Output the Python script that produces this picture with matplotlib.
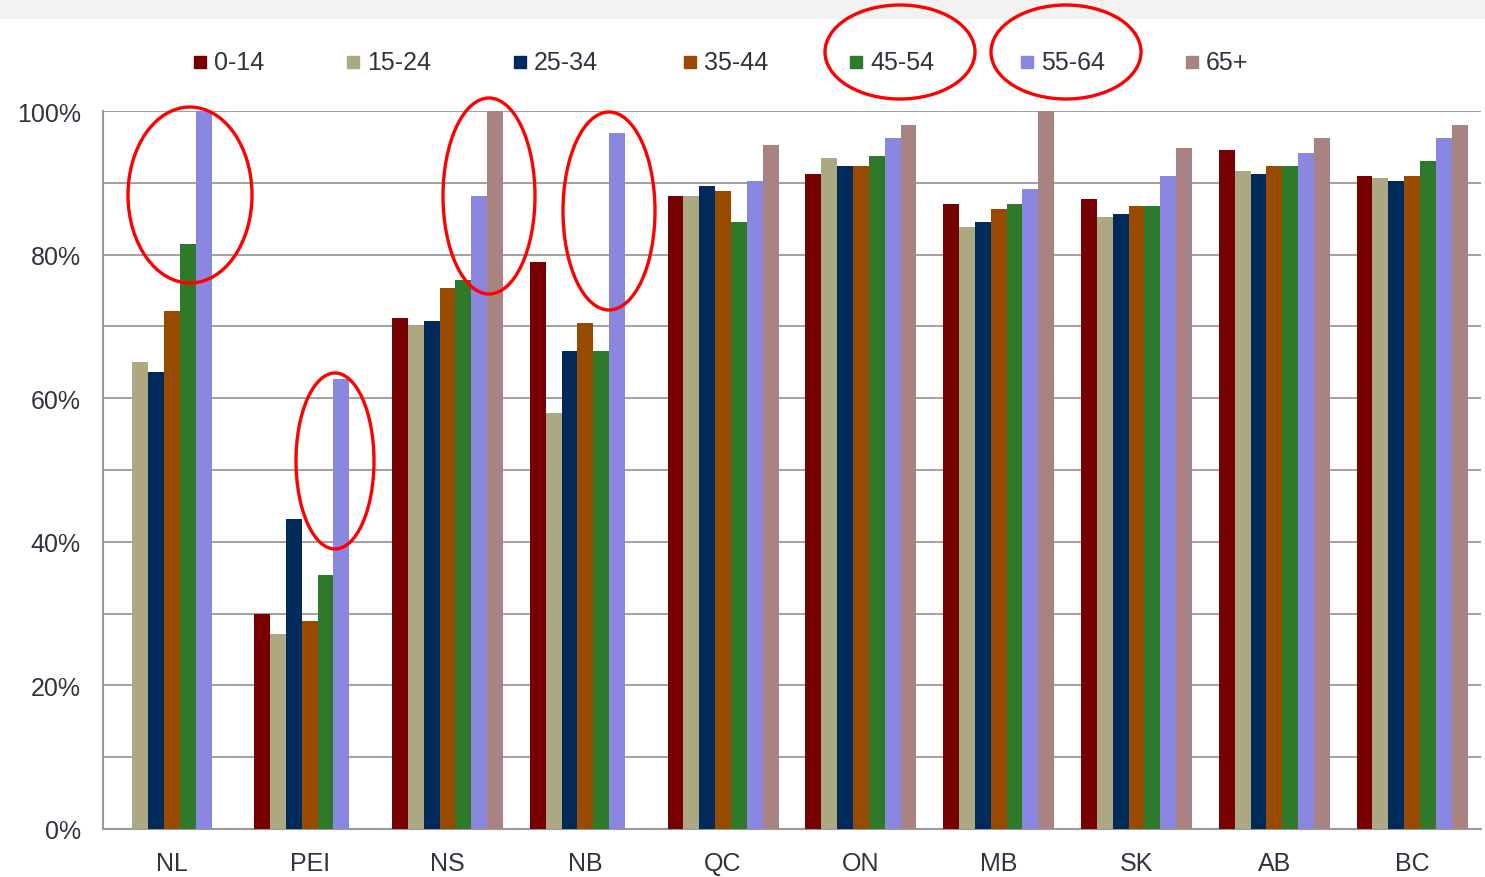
import numpy as np
from matplotlib import pyplot as plt
from matplotlib.patches import Ellipse, Rectangle
from matplotlib.lines import Line2D

plt.rcParams['font.family'] = ['Liberation Sans', 'DejaVu Sans']

provinces = ['NL', 'PEI', 'NS', 'NB', 'QC', 'ON', 'MB', 'SK', 'AB', 'BC']
age_groups = ['0-14', '15-24', '25-34', '35-44', '45-54', '55-64', '65+']
colors = ['#770000', '#aca882', '#002a5a', '#984a00', '#2f7a2a', '#8a87e0', '#a98282']

# percent per age group, one value per province (0 = no bar shown)
a0_14 = [0, 30.0, 71.2, 79.0, 88.1, 91.2, 87.0, 87.7, 94.5, 90.9]
a15_24 = [65.0, 27.2, 70.0, 58.0, 88.1, 93.4, 83.8, 85.2, 91.7, 90.6]
a25_34 = [63.6, 43.2, 70.8, 66.6, 89.5, 92.3, 84.5, 85.7, 91.2, 90.2]
a35_44 = [72.1, 29.0, 75.3, 70.5, 88.8, 92.3, 86.4, 86.7, 92.4, 90.9]
a45_54 = [81.5, 35.4, 76.5, 66.6, 84.5, 93.7, 87.0, 86.7, 92.4, 93.1]
a55_64 = [100.0, 62.7, 88.2, 97.0, 90.2, 96.2, 89.1, 90.9, 94.2, 96.2]
a65_up = [0, 0, 100.0, 0, 95.2, 98.0, 100.0, 94.8, 96.2, 98.0]
series = [a0_14, a15_24, a25_34, a35_44, a45_54, a55_64, a65_up]

txt_col = '#33333f'
grid_col = '#9a9a9a'

fig = plt.figure(figsize=(14.85, 8.78), dpi=100)
ax = fig.add_axes([103 / 1485, 48 / 878, 1378 / 1485, 718 / 878])

x = np.arange(len(provinces))
w = 0.115
for i, vals in enumerate(series):
    ax.bar(x + (i - 3) * w, vals, width=w, color=colors[i], zorder=3)

ax.set_xlim(-0.5, len(provinces) - 0.5)
ax.set_ylim(0, 100)
ax.set_yticks(np.arange(0, 101, 20))
ax.set_yticklabels(['%d%%' % v for v in range(0, 101, 20)])
ax.set_yticks(np.arange(0, 101, 10), minor=True)
ax.set_xticks(x)
ax.set_xticklabels(provinces)
ax.grid(axis='y', which='both', color=grid_col, lw=1.3, zorder=0)
ax.tick_params(axis='both', length=0, labelsize=18, labelcolor=txt_col, pad=16)
ax.tick_params(axis='y', which='minor', length=0)
for s in ['top', 'right']:
    ax.spines[s].set_visible(False)
for s in ['left', 'bottom']:
    ax.spines[s].set_color(grid_col)
    ax.spines[s].set_linewidth(1.5)

# overlay in pixel coordinates for legend, ellipses and top band
ov = fig.add_axes([0, 0, 1, 1], facecolor='none')
ov.set_xlim(0, 1485)
ov.set_ylim(878, 0)
ov.axis('off')

ov.add_patch(Rectangle((0, 0), 1485, 20, color='#f2f2f2', lw=0))

leg_x = [200, 353, 520, 690, 856, 1027, 1192]
for lx, lab, c in zip(leg_x, age_groups, colors):
    ov.add_line(Line2D([lx], [63], marker='s', ms=8, color=c, ls='none'))
    ov.text(lx + 14, 63, lab, fontsize=18, color=txt_col, va='center', ha='left')

# red highlight ellipses (center x, center y, width, height) in pixels
rings = [(190, 196, 124, 176), (335, 462, 78, 176), (489, 197, 92, 196),
         (609, 212, 92, 198), (900, 53, 150, 94), (1066, 53, 150, 94)]
for cx, cy, ew, eh in rings:
    ov.add_patch(Ellipse((cx, cy), ew, eh, fill=False, ec='#ff0000', lw=2.4))

fig.savefig('out.png', dpi=100)
